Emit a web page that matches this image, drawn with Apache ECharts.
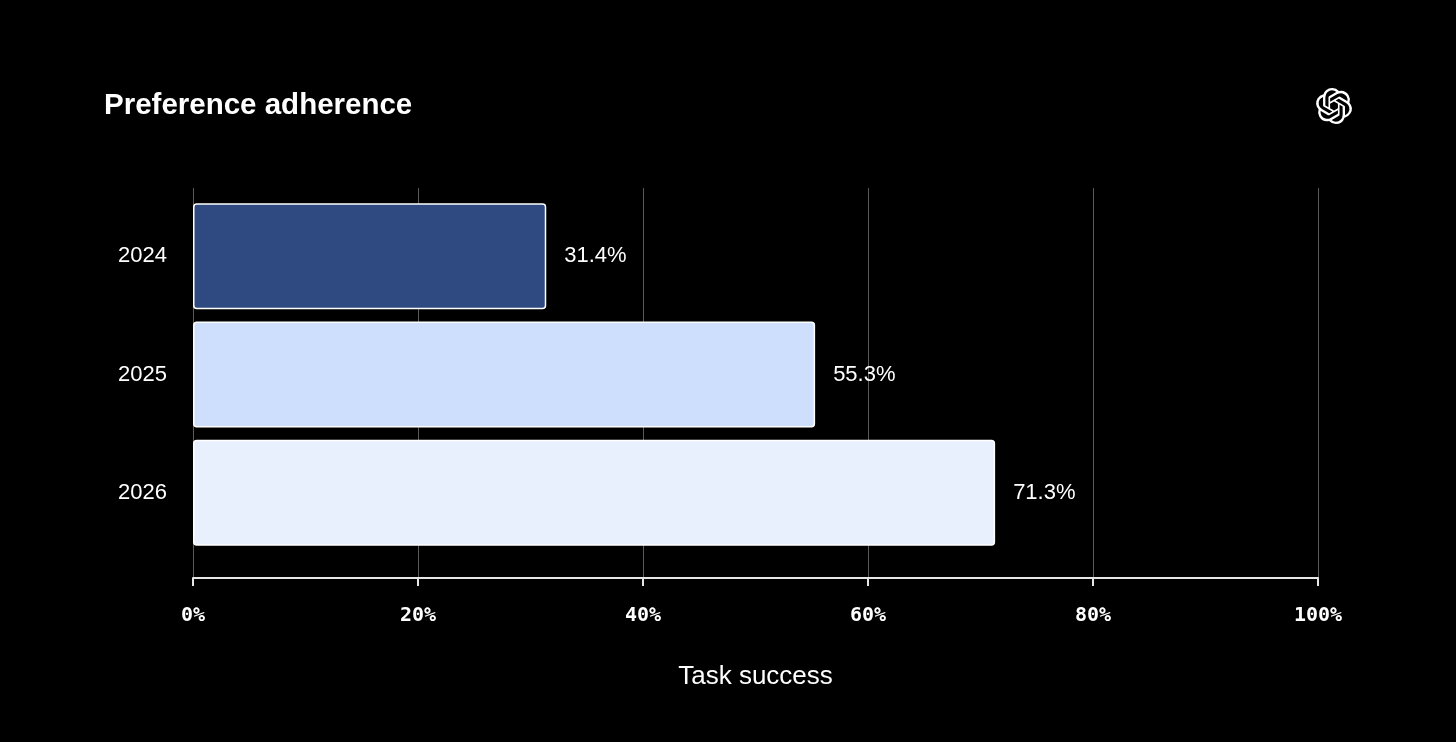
<!DOCTYPE html>
<html>
<head>
<meta charset="utf-8">
<title>Preference adherence</title>
<script src="https://cdn.jsdelivr.net/npm/echarts@6/dist/echarts.min.js"></script>
<style>
  html, body { margin: 0; padding: 0; background: #000; }
  #main { width: 1456px; height: 742px; }
</style>
</head>
<body>
<div id="main"></div>
<script>
// chart data
var years = ['2024', '2025', '2026'];
var taskSuccess = [31.4, 55.3, 71.3];
var barColors = ['#2e4a80', '#cddffc', '#e8effd'];
var xTicks = [0, 20, 40, 60, 80, 100];

// openai knot mark, 24x24 path scaled up
var logoPath = 'M22.2819 9.8211a5.9847 5.9847 0 0 0-.5157-4.9108 6.0462 6.0462 0 0 0-6.5098-2.9A6.0651 6.0651 0 0 0 4.9807 4.1818a5.9847 5.9847 0 0 0-3.9977 2.9 6.0462 6.0462 0 0 0 .7427 7.0966 5.98 5.98 0 0 0 .511 4.9107 6.051 6.051 0 0 0 6.5146 2.9001A5.9847 5.9847 0 0 0 13.2599 24a6.0557 6.0557 0 0 0 5.7718-4.2058 5.9894 5.9894 0 0 0 3.9977-2.9001 6.0557 6.0557 0 0 0-.7475-7.0729zm-9.022 12.6081a4.4755 4.4755 0 0 1-2.8764-1.0408l.1419-.0804 4.7783-2.7582a.7948.7948 0 0 0 .3927-.6813v-6.7369l2.02 1.1686a.071.071 0 0 1 .038.052v5.5826a4.504 4.504 0 0 1-4.4945 4.4944zm-9.6607-4.1254a4.4708 4.4708 0 0 1-.5346-3.0137l.142.0852 4.783 2.7582a.7712.7712 0 0 0 .7806 0l5.8428-3.3685v2.3324a.0804.0804 0 0 1-.0332.0615L9.74 19.9502a4.4992 4.4992 0 0 1-6.1408-1.6464zM2.3408 7.8956a4.485 4.485 0 0 1 2.3655-1.9728V11.6a.7664.7664 0 0 0 .3879.6765l5.8144 3.3543-2.0201 1.1685a.0757.0757 0 0 1-.071 0l-4.8303-2.7865A4.504 4.504 0 0 1 2.3408 7.872zm16.5963 3.8558L13.1038 8.364 15.1192 7.2a.0757.0757 0 0 1 .071 0l4.8303 2.7913a4.4944 4.4944 0 0 1-.6765 8.1042v-5.6772a.79.79 0 0 0-.407-.667zm2.0107-3.0231l-.142-.0852-4.7735-2.7818a.7759.7759 0 0 0-.7854 0L9.409 9.2297V6.8974a.0662.0662 0 0 1 .0284-.0615l4.8303-2.7866a4.4992 4.4992 0 0 1 6.6802 4.66zM8.3065 12.863l-2.02-1.1638a.0804.0804 0 0 1-.038-.0567V6.0742a4.4992 4.4992 0 0 1 7.3757-3.4537l-.142.0805L8.704 5.459a.7948.7948 0 0 0-.3927.6813zm1.0976-2.3654l2.602-1.4998 2.6069 1.4998v2.9994l-2.5974 1.4997-2.6067-1.4997Z';
echarts.graphic.registerShape('openaiLogo', echarts.graphic.extendPath(logoPath, {}));

var chart = echarts.init(document.getElementById('main'));

var option = {
  backgroundColor: '#000',
  animation: false,
  title: {
    text: 'Preference adherence',
    left: 104,
    top: 91,
    padding: 0,
    textStyle: { color: '#fff', fontSize: 29.5, fontWeight: 'bold', fontFamily: 'Liberation Sans' }
  },
  graphic: [{
    type: 'openaiLogo',
    x: 1316,
    y: 88,
    scaleX: 1.5,
    scaleY: 1.5,
    style: { fill: '#fff' }
  }],
  // grid 0 carries the axis + gridlines, grid 1 holds the bars
  grid: [
    { left: 193, right: 138, top: 188, bottom: 164 },
    { left: 193, right: 138, top: 197, bottom: 190 }
  ],
  xAxis: [{
    type: 'value',
    gridIndex: 0,
    min: 0,
    max: 100,
    interval: 20,
    name: 'Task success',
    nameLocation: 'middle',
    nameGap: 86,
    nameTextStyle: { color: '#fff', fontSize: 26, fontFamily: 'Liberation Sans' },
    axisLine: { show: true, lineStyle: { color: '#e6e6e6', width: 2 } },
    axisTick: { show: true, length: 8, lineStyle: { color: '#e6e6e6', width: 2 } },
    axisLabel: {
      color: '#fff',
      fontSize: 20,
      margin: 28,
      fontWeight: 'bold',
      fontFamily: 'DejaVu Sans Mono',
      formatter: function (v) { return xTicks.indexOf(v) >= 0 ? v + '%' : ''; }
    },
    splitLine: { show: true, lineStyle: { color: '#5a5a5a', width: 1 } }
  }, {
    type: 'value',
    gridIndex: 1,
    min: 0,
    max: 100,
    show: false
  }],
  yAxis: [{
    type: 'category',
    gridIndex: 0,
    data: years,
    show: false
  }, {
    type: 'category',
    gridIndex: 1,
    data: years,
    inverse: true,
    axisLine: { show: false },
    axisTick: { show: false },
    axisLabel: { color: '#fff', fontSize: 22, margin: 26, fontFamily: 'Liberation Sans' }
  }],
  series: [{
    type: 'bar',
    xAxisIndex: 1,
    yAxisIndex: 1,
    barWidth: 106,
    data: taskSuccess.map(function (v, i) {
      return { value: v, itemStyle: { color: barColors[i] } };
    }),
    itemStyle: { borderColor: '#fff', borderWidth: 1.5, borderRadius: 3 },
    label: {
      show: true,
      position: 'right',
      distance: 18,
      color: '#fff',
      fontSize: 22,
      fontFamily: 'Liberation Sans',
      formatter: function (p) { return p.value + '%'; }
    }
  }]
};

chart.setOption(option);
</script>
</body>
</html>
